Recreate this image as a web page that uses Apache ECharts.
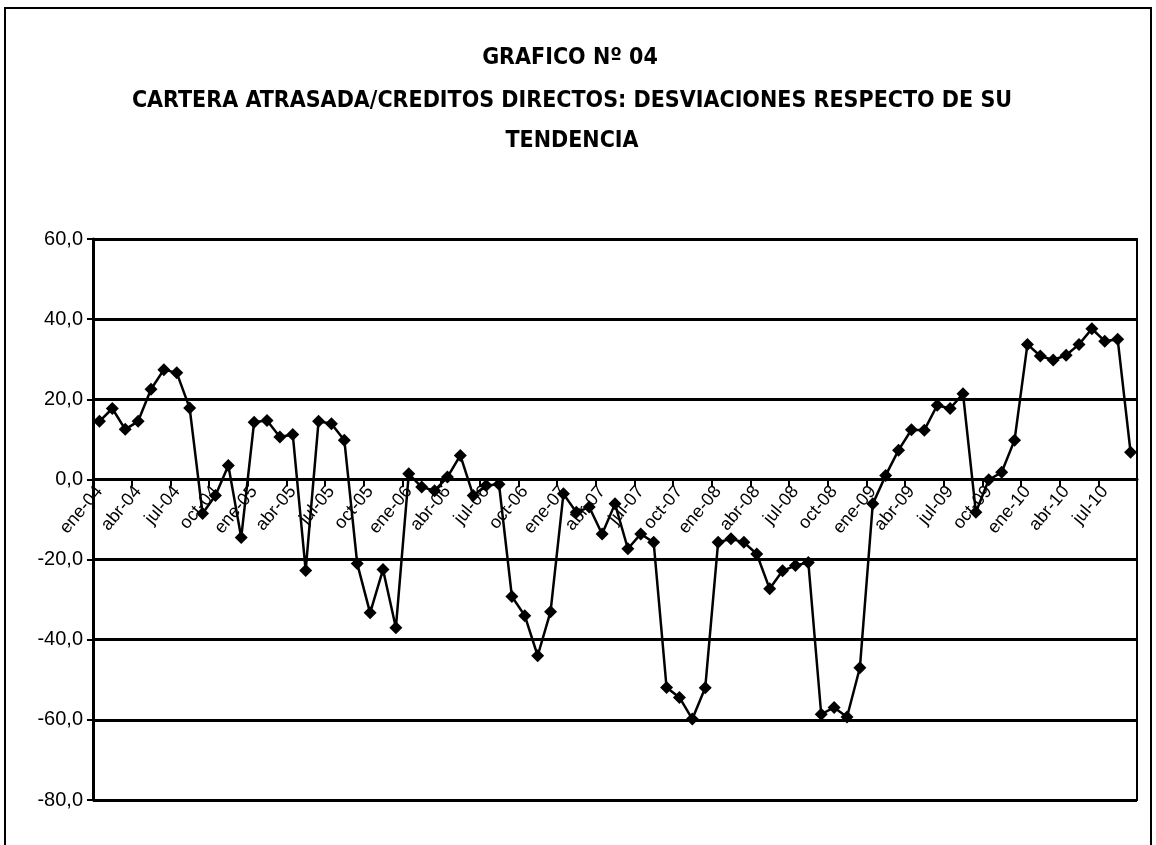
<!DOCTYPE html>
<html>
<head>
<meta charset="utf-8">
<script src="https://cdn.jsdelivr.net/npm/echarts@6/dist/echarts.min.js"></script>
<style>
html,body{margin:0;padding:0;background:#fff;}
#chart{width:1156px;height:845px;}
</style>
</head>
<body>
<div id="chart"></div>
<script>
// Month abbreviations and years used to build the category labels
var monthNames = ['ene','feb','mar','abr','may','jun','jul','ago','set','oct','nov','dic'];
var years = ['04','05','06','07','08','09','10'];
var lastYearMonths = 9; // 2010: ene..set

var categories = [];
for (var y = 0; y < years.length; y++) {
  var nm = (y === years.length - 1) ? lastYearMonths : 12;
  for (var m = 0; m < nm; m++) categories.push(monthNames[m] + '-' + years[y]);
}

// Deviations from trend (%), ene-04 .. set-10
var deviations = [
  14.5, 17.7, 12.5, 14.5, 22.5, 27.4, 26.6, 17.8, -8.5, -4.0, 3.5, -14.5,
  14.3, 14.7, 10.6, 11.2, -22.7, 14.5, 13.9, 9.8, -21.0, -33.3, -22.5, -37.0,
  1.4, -1.9, -2.8, 0.6, 6.0, -4.0, -1.5, -1.2, -29.2, -34.0, -44.0, -33.0,
  -3.6, -8.2, -6.9, -13.6, -6.1, -17.3, -13.6, -15.7, -51.9, -54.4, -59.8, -52.0,
  -15.7, -14.8, -15.7, -18.6, -27.3, -22.8, -21.5, -20.7, -58.6, -56.9, -59.3, -47.0,
  -6.1, 1.0, 7.3, 12.4, 12.3, 18.5, 17.7, 21.4, -8.2, -0.1, 1.8, 9.8,
  33.7, 30.8, 29.8, 31.0, 33.7, 37.6, 34.5, 35.0, 6.8
];

var yMin = -80, yMax = 60, yStep = 20;

var titleLines = [
  'GRAFICO Nº 04',
  'CARTERA ATRASADA/CREDITOS DIRECTOS: DESVIACIONES RESPECTO DE SU',
  'TENDENCIA'
];

var titleFont = '"Liberation Sans Narrow", "DejaVu Sans Condensed", "Liberation Sans", Arial, sans-serif';
var labelFont = '"Liberation Sans Narrow", "Liberation Sans", Arial, sans-serif';

var gridTop = 239, gridBottomPx = 800, chartH = 845;
// pixel offset that moves the bottom category axis up to the value 0
var zeroOffset = -(gridBottomPx - gridTop) * (0 - yMin) / (yMax - yMin);

var chart = echarts.init(document.getElementById('chart'), null, {renderer: 'canvas'});

var option = {
  backgroundColor: '#ffffff',
  animation: false,
  graphic: [
    {type: 'rect', shape: {x: 5, y: 8, width: 1146, height: 860}, style: {fill: 'none', stroke: '#000', lineWidth: 2}, silent: true},
    {type: 'text', x: 570, y: 58, style: {text: titleLines[0], align: 'center', verticalAlign: 'middle', font: 'bold 23px ' + titleFont, fill: '#000'}},
    {type: 'text', x: 572, y: 101, style: {text: titleLines[1], align: 'center', verticalAlign: 'middle', font: 'bold 23px ' + titleFont, fill: '#000'}},
    {type: 'text', x: 572, y: 141, style: {text: titleLines[2], align: 'center', verticalAlign: 'middle', font: 'bold 23px ' + titleFont, fill: '#000'}}
  ],
  grid: {
    left: 93, right: 19, top: gridTop, bottom: chartH - gridBottomPx,
    outerBoundsMode: 'none', containLabel: false,
    show: true, borderColor: '#000', borderWidth: 2, backgroundColor: 'transparent'
  },
  xAxis: {
    type: 'category',
    data: categories,
    position: 'bottom',
    offset: zeroOffset,
    boundaryGap: true,
    axisLine: {onZero: false, lineStyle: {color: '#000', width: 3}},
    axisTick: {show: true, interval: 2, length: 7, inside: false, lineStyle: {color: '#000', width: 2}},
    axisLabel: {interval: 2, rotate: 50, margin: 9, color: '#000', fontFamily: labelFont, fontSize: 18},
    splitLine: {show: false}
  },
  yAxis: {
    type: 'value',
    min: yMin, max: yMax, interval: yStep,
    axisLine: {show: true, lineStyle: {color: '#000', width: 3}},
    axisTick: {show: true, length: 6, lineStyle: {color: '#000', width: 2}},
    axisLabel: {
      color: '#000', fontFamily: labelFont, fontSize: 20, margin: 10,
      formatter: function (v) { return v.toFixed(1).replace('.', ','); }
    },
    splitLine: {show: true, lineStyle: {color: '#000', width: 3}}
  },
  series: [{
    type: 'line',
    data: deviations,
    symbol: 'diamond',
    symbolSize: 13,
    showAllSymbol: true,
    itemStyle: {color: '#000'},
    lineStyle: {color: '#000', width: 2.5},
    z: 5
  }]
};

chart.setOption(option);
</script>
</body>
</html>
